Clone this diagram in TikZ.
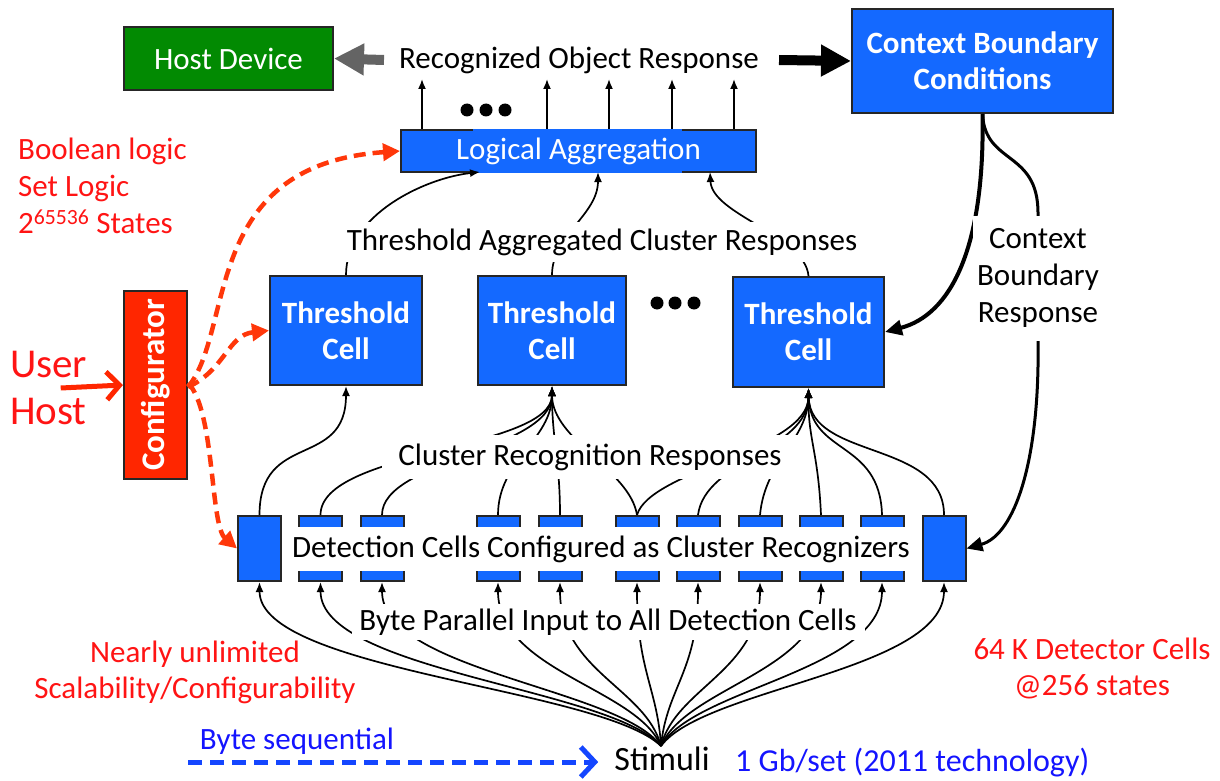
\documentclass[tikz,border=0pt]{standalone}
\usepackage{fontspec}
\setmainfont{Carlito}
\usetikzlibrary{arrows.meta,calc}
\definecolor{boxblue}{RGB}{20,105,255}
\definecolor{hostgreen}{RGB}{2,138,2}
\definecolor{cfgred}{RGB}{255,38,0}
\definecolor{txtred}{RGB}{255,20,20}
\definecolor{dashred}{RGB}{255,55,10}
\definecolor{txtblue}{RGB}{20,20,255}
\definecolor{dashblue}{RGB}{20,70,255}
\definecolor{arrgray}{RGB}{100,100,100}
\newcommand\fsz[2]{\fontsize{#1pt}{#2pt}\selectfont}
\begin{document}
\begin{tikzpicture}[x=1pt,y=-1pt,
  box/.style={draw=black!85, line width=2pt, fill=boxblue, text=white, inner sep=0pt, align=center},
  dcell/.style={box, minimum width=43pt, minimum height=65pt},
  tcell/.style={box, font=\fsz{31}{36}\bfseries},
  cover/.style={fill=white, inner sep=0pt, text=black, font=\fsz{31}{36}},
  thinln/.style={line width=1.7pt},
  arr/.style={thinln, -{Latex[length=10pt,width=8pt]}},
  reddash/.style={draw=dashred, line width=4.5pt, dash pattern=on 12pt off 7pt, -{Triangle[length=17pt,width=17pt]}},
  dot/.style={circle, fill=black, inner sep=0pt, minimum size=13pt}
]
\useasboundingbox (0,0) rectangle (1220,781);

% ---------- top row ----------
\node[box, fill=hostgreen, minimum width=209pt, minimum height=63pt, font=\fsz{31}{36}] (host) at (228.5,58.5) {Host Device};
\node[box, minimum width=261pt, minimum height=104pt, font=\fsz{31}{36}\bfseries] (cbc) at (982.5,61) {Context Boundary\\Conditions};
\node[font=\fsz{31}{36}, inner sep=2pt] (ror) at (579,60) {Recognized Object Response};
\draw[arrgray, line width=10pt, -{Triangle[length=30pt,width=30pt]}] ([xshift=-13pt]ror.west) -- (host.east);
\draw[black, line width=10pt, -{Triangle[length=30pt,width=30pt]}] ([xshift=18pt]ror.east) -- (cbc.west);

% ---------- logical aggregation ----------
\node[box, minimum width=355pt, minimum height=42pt] (la) at (578.5,151) {};
\fill[boxblue] (473,128.8) rectangle (682,173.2);
\node[text=white, font=\fsz{31}{36}, inner sep=0pt] (latext) at (la.center) {Logical Aggregation};
\foreach \dx in {-156.5,-31.5,30.5,93.5,155.5}
  \draw[arr] ([xshift=\dx pt]la.north) -- ++(0,-50);
\node[dot] (ld1) at (467,110) {};
\node[dot] (ld2) at (486,110) {};
\node[dot] (ld3) at (505,110) {};

% ---------- threshold cells ----------
\node[tcell, minimum width=152pt, minimum height=109pt] (t1) at (346,330.5) {Threshold\\Cell};
\node[tcell, minimum width=148pt, minimum height=109pt] (t2) at (552,330.5) {Threshold\\Cell};
\node[tcell, minimum width=151pt, minimum height=110pt] (t3) at (808.5,332) {Threshold\\Cell};
\node[dot] (td1) at (657,303) {};
\node[dot] (td2) at (675,303) {};
\node[dot] (td3) at (694,303) {};

% threshold -> logical aggregation
\draw[arr] (t1.north) .. controls (346,215) and (425,178) .. (480,172);
\draw[arr] (t2.north) .. controls (552,235) and (598,215) .. (598,172);
\draw[arr] (t3.north) .. controls (805,235) and (712,215) .. (710,172);
\node[cover, minimum width=525pt, minimum height=40pt] (tacr) at (602,242) {Threshold Aggregated Cluster Responses};

% ---------- context boundary ----------
\draw[line width=4pt, -{Triangle[length=17pt,width=15pt]}] (cbc.south) .. controls (985,250) and (950,315) .. (t3.east);

% ---------- detection cells ----------
\foreach \i/\x in {1/259.5,2/320.5,3/382,4/498,5/560,6/637,7/698,8/760,9/821,10/882,11/944}
  \node[dcell] (d\i) at (\x,548.5) {};

\draw[line width=3pt, -{Triangle[length=16pt,width=14pt]}] (cbc.south) .. controls (985,165) and (1038,150) .. (1038,213)
   -- (1038,340) .. controls (1040,460) and (1015,535) .. (d11.east);
\node[cover, align=center, minimum width=130pt, minimum height=125pt, font=\fsz{31}{37}] (cbr) at (1038,278) {Context\\Boundary\\Response};

% detection -> threshold
\draw[arr] (d1.north) .. controls (259.5,430) and (346,470) .. (t1.south);
\draw[arr] (d2.north) .. controls (320.5,450) and (552,450) .. (t2.south);
\draw[arr] (d3.north) .. controls (382,460) and (552,450) .. (t2.south);
\draw[arr] (d4.north) .. controls (498,460) and (552,440) .. (t2.south);
\draw[arr] (d5.north) .. controls (560,460) and (552,440) .. (t2.south);
\draw[arr] (d6.north) .. controls (630,470) and (552,440) .. (t2.south);
\draw[arr] (d6.north) .. controls (650,470) and (808,450) .. (t3.south);
\draw[arr] (d7.north) .. controls (705,460) and (808,450) .. (t3.south);
\draw[arr] (d8.north) .. controls (765,460) and (808,440) .. (t3.south);
\draw[arr] (d9.north) .. controls (818,450) and (808,440) .. (t3.south);
\draw[arr] (d10.north) .. controls (880,440) and (810,455) .. (t3.south);
\draw[arr] (d11.north) .. controls (944,440) and (810,460) .. (t3.south);
\node[cover, minimum width=416pt, minimum height=44pt] (crr) at (590,457) {Cluster Recognition Responses};

\node[cover, minimum width=636pt, minimum height=44pt] (dccr) at (601,549) {Detection Cells Configured as Cluster Recognizers};

% ---------- stimuli ----------
\node[font=\fsz{34}{38}, anchor=base, inner sep=0pt] (stim) at (662,770) {Stimuli};
\coordinate (sp) at (661,746);
\foreach \i in {1,...,11}
  \draw[arr] (sp) .. controls ($(sp)!0.15!(d\i.south |- sp) + (0,-58)$) and ($(d\i.south)+(0,89)$) .. (d\i.south);
\node[cover, minimum width=513pt, minimum height=36pt] (bpi) at (608,622) {Byte Parallel Input to All Detection Cells};

% ---------- configurator ----------
\node[box, fill=cfgred, minimum width=63pt, minimum height=188pt] (cfg) at (155.5,385) {};
\node[rotate=90, text=white, font=\fsz{33}{36}\bfseries, inner sep=0pt] (cfgt) at (cfg.center) {Configurator};
\node[text=txtred, align=left, anchor=west, font=\fsz{41}{47}, inner sep=0pt] (uh) at (10,388) {User\\Host};
\draw[cfgred, line width=5pt, -{Straight Barb[length=13pt,width=28pt]}] ([xshift=12pt]uh.center) -- (cfg.west);

\draw[reddash] ([yshift=-2pt]cfg.east) .. controls (235,330) and (200,165) .. (la.west);
\draw[reddash] ([yshift=-2pt]cfg.east) .. controls (225,370) and (228,335) .. (t1.west);
\draw[reddash] ([yshift=2pt]cfg.east) .. controls (215,410) and (210,525) .. (d1.west);

% ---------- annotations ----------
\node[text=txtred, align=left, anchor=west, font=\fsz{31}{37}, inner sep=0pt] (bool) at (18,186) {Boolean logic\\Set Logic\\2\textsuperscript{65536} States};
\node[text=txtred, align=center, font=\fsz{31}{36}, inner sep=0pt] (scal) at (195,672) {Nearly unlimited\\Scalability/Configurability};
\node[text=txtred, align=center, font=\fsz{31}{36}, inner sep=0pt] (det) at (1092,668) {64 K Detector Cells\\@256 states};
\node[text=txtblue, font=\fsz{31}{36}, inner sep=0pt] (bseq) at (297,741) {Byte sequential};
\node[text=txtblue, font=\fsz{32}{36}, inner sep=0pt, anchor=west] (gb) at (735,763) {1 Gb/set (2011 technology)};
\coordinate (bstart) at (188,762);
\draw[dashblue, line width=5pt, dash pattern=on 14pt off 8pt, -{Straight Barb[length=14pt,width=30pt]}] (bstart) -- ([xshift=-16pt]stim.west |- bstart);
\end{tikzpicture}
\end{document}
